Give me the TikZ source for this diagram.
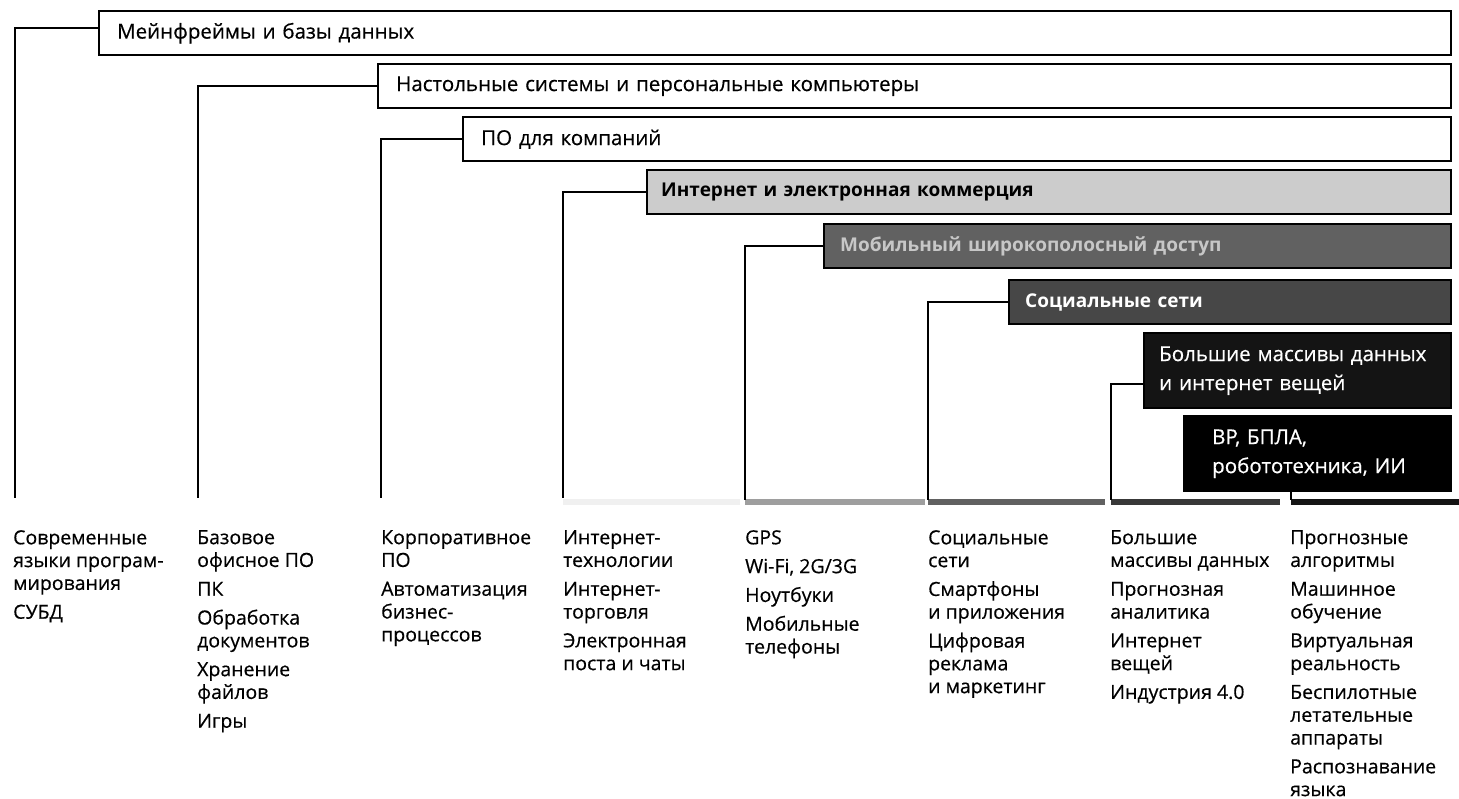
\documentclass[tikz,border=0pt]{standalone}
\usepackage{fontspec}
\setmainfont{Open Sans}
\newfontfamily\semisans{Open Sans}[BoldFont={*}, BoldFeatures={FakeBold=0.45}]
\newfontfamily\boldsans{Open Sans Bold}
\begin{document}
\begin{tikzpicture}[x=1pt,y=-1pt,
  bar/.style={draw=black, line width=2.4pt, anchor=north west, inner xsep=18pt, inner ysep=4pt,
    minimum height=44pt, align=left, font=\fontsize{20.5}{29}\semisans\bfseries},
  barb/.style={bar, font=\fontsize{19}{29}\boldsans},
  conn/.style={line width=2.4pt},
  col/.style={anchor=north west, inner sep=0pt, align=left, font=\fontsize{19.5}{22.8}\semisans\bfseries}
]
\useasboundingbox (0,0) rectangle (1459,798);
% bars
\node[bar, minimum width=1352pt, text width=1316pt] (b1) at (98,10) {Мейнфреймы и базы данных};
\node[bar, minimum width=1073pt, text width=1037pt] (b2) at (377,63) {Настольные системы и персональные компьютеры};
\node[bar, minimum width=988pt, text width=952pt] (b3) at (462,116) {ПО для компаний};
\node[barb, fill=black!20, minimum width=804pt, text width=776pt, inner xsep=14pt] (b4) at (646,169) {Интернет и электронная коммерция};
\node[barb, fill=black!62, text=black!22, minimum width=627pt, text width=595pt, inner xsep=16pt] (b5) at (823,223) {Мобильный широкополосный доступ};
\node[barb, fill=black!72, text=white, minimum width=442pt, text width=410pt, inner xsep=16pt] (b6) at (1008,279) {Социальные сети};
\node[bar, fill=black!92, text=white, minimum width=307pt, text width=277pt, inner xsep=15pt, minimum height=75pt] (b7) at (1143,332) {Большие массивы данных\\и интернет вещей};
\node[bar, fill=black, text=white, minimum width=267pt, text width=211pt, inner xsep=28pt, minimum height=75pt] (b8) at (1183,415) {ВР, БПЛА,\\робототехника, ИИ};
% line ends
\coordinate (e1) at (15,498);
\coordinate (e2) at (198,498);
\coordinate (e3) at (381,498);
\coordinate (e4) at (563,498);
\coordinate (e5) at (745,500);
\coordinate (e6) at (928,500);
\coordinate (e7) at (1111,500);
\coordinate (e8) at (1291,500);
% strips
\fill[black!6] (563,499) rectangle (740,505);
\fill[black!38] (745,499) rectangle (925,505);
\fill[black!62] (928,499) rectangle (1105,505);
\fill[black!78] (1111,499) rectangle (1280,505);
\fill[black!92] (1291,499) rectangle (1459,505);
% connectors
\draw[conn] ([yshift=5pt]b1.west) -| (e1);
\draw[conn] (b2.west) -| (e2);
\draw[conn] (b3.west) -| (e3);
\draw[conn] (b4.west) -| (e4);
\draw[conn] (b5.west) -| (e5);
\draw[conn] (b6.west) -| (e6);
\draw[conn] ([yshift=-13pt]b7.west) -| (e7);
\draw[conn] (b8.south -| e8) -- (e8);
% column texts
\node[col] (c1) at (13,530) {Современные\\языки програм-\\мирования\\[6pt]СУБД};
\node[col] (c2) at (197,530) {Базовое\\офисное ПО\\[6pt]ПК\\[6pt]Обработка\\документов\\[6pt]Хранение\\файлов\\[6pt]Игры};
\node[col] (c3) at (381,530) {Корпоративное\\ПО\\[6pt]Автоматизация\\бизнес-\\процессов};
\node[col] (c4) at (563,530) {Интернет-\\технологии\\[6pt]Интернет-\\торговля\\[6pt]Электронная\\поста и чаты};
\node[col] (c5) at (745,530) {GPS\\[6pt]Wi-Fi, 2G/3G\\[6pt]Ноутбуки\\[6pt]Мобильные\\телефоны};
\node[col] (c6) at (928,530) {Социальные\\сети\\[6pt]Смартфоны\\и приложения\\[6pt]Цифровая\\реклама\\и маркетинг};
\node[col] (c7) at (1110,530) {Большие\\массивы данных\\[6pt]Прогнозная\\аналитика\\[6pt]Интернет\\вещей\\[6pt]Индустрия 4.0};
\node[col] (c8) at (1290,530) {Прогнозные\\алгоритмы\\[6pt]Машинное\\обучение\\[6pt]Виртуальная\\реальность\\[6pt]Беспилотные\\летательные\\аппараты\\[6pt]Распознавание\\языка};
\end{tikzpicture}
\end{document}
